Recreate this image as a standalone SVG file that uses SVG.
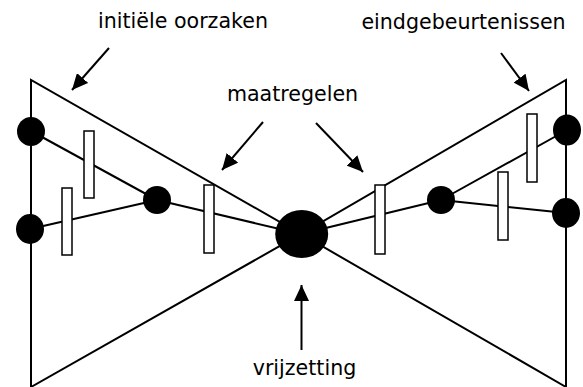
<svg xmlns="http://www.w3.org/2000/svg" width="583" height="387" viewBox="0 0 583 387">
<style>
.ln{stroke:#000;stroke-width:2;fill:none}
.dot{fill:#000}
.bar{fill:#fff;stroke:#000;stroke-width:1.5}
.lbl{font-family:"DejaVu Sans",Verdana,sans-serif;font-size:20.6px;fill:#000;text-anchor:middle}
.arr{stroke:#000;stroke-width:2;fill:none;marker-end:url(#ah)}
</style>
<defs>
<marker id="ah" markerUnits="userSpaceOnUse" markerWidth="17" markerHeight="15" refX="16" refY="7.5" orient="auto" viewBox="0 0 17 15">
<path d="M0,0 L16,7.5 L0,15 z" fill="#000"/>
</marker>
</defs>
<g id="connectors">
<polyline class="ln" points="31,387 31,80 301,234 566,80 566,387 301,234 31,387"/>
<line class="ln" x1="31" y1="131" x2="157" y2="200"/>
<line class="ln" x1="30" y1="229" x2="157" y2="200"/>
<line class="ln" x1="157" y1="200" x2="301" y2="234"/>
<line class="ln" x1="441" y1="200" x2="301" y2="234"/>
<line class="ln" x1="567" y1="130" x2="441" y2="200"/>
<line class="ln" x1="566" y1="213" x2="441" y2="200"/>
<line class="arr" x1="109" y1="48" x2="72" y2="90"/>
<line class="arr" x1="263" y1="122" x2="222" y2="170"/>
<line class="arr" x1="316" y1="123" x2="363" y2="172"/>
<line class="arr" x1="501" y1="53" x2="529" y2="91"/>
<line class="arr" x1="301.5" y1="350" x2="301.5" y2="285"/>
</g>
<g id="barrier-left-top"><rect class="bar" x="84" y="131" width="10" height="67"/></g>
<g id="barrier-left-bottom"><rect class="bar" x="62" y="188" width="10" height="67"/></g>
<g id="barrier-center-left"><rect class="bar" x="204" y="185" width="10" height="68"/></g>
<g id="barrier-center-right"><rect class="bar" x="375" y="185" width="10" height="69"/></g>
<g id="barrier-right-bottom"><rect class="bar" x="498" y="172" width="10" height="68"/></g>
<g id="barrier-right-top"><rect class="bar" x="527" y="114" width="10" height="68"/></g>
<g id="cause-top"><ellipse class="dot" cx="31" cy="131.5" rx="14" ry="14.5"/></g>
<g id="cause-bottom"><ellipse class="dot" cx="30" cy="229" rx="14" ry="15"/></g>
<g id="cause-middle"><ellipse class="dot" cx="157" cy="200" rx="14" ry="14"/></g>
<g id="top-event"><ellipse class="dot" cx="301.7" cy="234" rx="26.5" ry="24"/></g>
<g id="consequence-middle"><ellipse class="dot" cx="441" cy="200" rx="14" ry="14"/></g>
<g id="consequence-top"><ellipse class="dot" cx="567" cy="130" rx="14" ry="15.5"/></g>
<g id="consequence-bottom"><ellipse class="dot" cx="566" cy="213" rx="14" ry="15"/></g>
<g id="label-initiele"><text class="lbl" x="183" y="28">initiële oorzaken</text></g>
<g id="label-eind"><text class="lbl" x="463.5" y="29">eindgebeurtenissen</text></g>
<g id="label-maatregelen"><text class="lbl" x="292.5" y="101">maatregelen</text></g>
<g id="label-vrijzetting"><text class="lbl" x="304.5" y="375">vrijzetting</text></g>
</svg>
